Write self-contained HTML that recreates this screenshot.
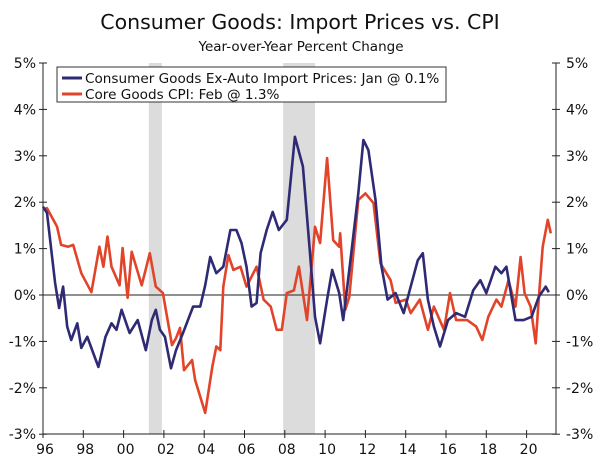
<!DOCTYPE html>
<html><head><meta charset="utf-8"><style>
body{margin:0;background:#fff;}
svg text{font-family:"DejaVu Sans","Liberation Sans",sans-serif;fill:#111;}
</style></head><body>
<svg id="chart" width="600" height="461" viewBox="0 0 600 461">
<text x="300" y="29" text-anchor="middle" font-size="20.5">Consumer Goods: Import Prices vs. CPI</text>
<text x="301" y="51" text-anchor="middle" font-size="13.5">Year-over-Year Percent Change</text>
<g id="shades"></g><g id="axes"></g><g id="series"></g>
<g>
<rect x="57" y="67" width="389" height="35" fill="#fff" stroke="#333" stroke-width="1"/>
<line x1="62" y1="78" x2="82" y2="78" stroke="#2e2a74" stroke-width="3"/>
<text x="85" y="83" font-size="13.6">Consumer Goods Ex-Auto Import Prices: Jan @ 0.1%</text>
<line x1="62" y1="94" x2="82" y2="94" stroke="#e2442a" stroke-width="3"/>
<text x="85" y="99" font-size="13.6">Core Goods CPI: Feb @ 1.3%</text>
</g>
</svg>
<script>
const recessions = [[2001.25, 2001.9], [2007.92, 2009.5]];
const yTicks = [5,4,3,2,1,0,-1,-2,-3];
const xTickYears = [1996,1998,2000,2002,2004,2006,2008,2010,2012,2014,2016,2018,2020];
const xTickLabels = ["96","98","00","02","04","06","08","10","12","14","16","18","20"];
const importDates = [1996.0,1996.2,1996.6,1996.8,1997.0,1997.2,1997.4,1997.7,1997.9,1998.2,1998.5,1998.75,1999.1,1999.4,1999.65,1999.9,2000.3,2000.7,2001.1,2001.4,2001.6,2001.8,2002.05,2002.35,2002.6,2002.95,2003.45,2003.8,2004.05,2004.3,2004.6,2004.95,2005.3,2005.6,2005.85,2006.1,2006.35,2006.6,2006.8,2007.1,2007.4,2007.7,2008.1,2008.5,2008.9,2009.25,2009.5,2009.75,2010.1,2010.35,2010.7,2010.9,2011.2,2011.65,2011.9,2012.15,2012.5,2012.8,2013.1,2013.5,2013.9,2014.25,2014.6,2014.85,2015.1,2015.4,2015.7,2016.1,2016.5,2016.95,2017.35,2017.7,2018.0,2018.45,2018.75,2019.0,2019.45,2019.85,2020.25,2020.6,2020.95,2021.1];
const importValues = [1.9,1.77,0.26,-0.28,0.18,-0.68,-0.97,-0.61,-1.14,-0.9,-1.26,-1.55,-0.9,-0.61,-0.75,-0.32,-0.82,-0.54,-1.19,-0.54,-0.32,-0.75,-0.9,-1.58,-1.19,-0.82,-0.25,-0.25,0.21,0.82,0.47,0.61,1.4,1.4,1.12,0.61,-0.25,-0.17,0.9,1.4,1.79,1.4,1.62,3.41,2.77,0.9,-0.47,-1.04,-0.1,0.54,0.04,-0.54,0.54,2.19,3.34,3.12,2.05,0.61,-0.1,0.04,-0.39,0.18,0.75,0.9,-0.1,-0.68,-1.11,-0.54,-0.39,-0.47,0.1,0.32,0.04,0.61,0.47,0.61,-0.54,-0.54,-0.47,-0.04,0.18,0.06];
const cpiDates = [1996.0,1996.2,1996.7,1996.9,1997.25,1997.5,1997.9,1998.4,1998.8,1999.0,1999.2,1999.4,1999.8,1999.95,2000.2,2000.4,2000.9,2001.3,2001.6,2001.95,2002.4,2002.6,2002.8,2003.0,2003.4,2003.55,2004.05,2004.4,2004.6,2004.8,2004.95,2005.2,2005.45,2005.8,2006.1,2006.6,2006.95,2007.3,2007.6,2007.85,2008.1,2008.45,2008.7,2009.1,2009.5,2009.75,2010.1,2010.4,2010.7,2010.75,2011.0,2011.2,2011.65,2012.0,2012.4,2012.75,2013.25,2013.5,2014.0,2014.25,2014.7,2015.1,2015.4,2015.9,2016.2,2016.5,2017.05,2017.5,2017.8,2018.1,2018.5,2018.75,2019.1,2019.45,2019.7,2019.9,2020.2,2020.45,2020.6,2020.8,2021.05,2021.2];
const cpiValues = [1.85,1.87,1.47,1.08,1.04,1.08,0.47,0.06,1.04,0.61,1.26,0.61,0.21,1.01,-0.06,0.93,0.21,0.9,0.18,0.04,-1.08,-0.93,-0.71,-1.62,-1.4,-1.83,-2.54,-1.55,-1.11,-1.19,0.18,0.86,0.54,0.61,0.18,0.61,-0.1,-0.25,-0.75,-0.75,0.04,0.1,0.61,-0.54,1.47,1.12,2.95,1.18,1.04,1.33,-0.32,-0.04,2.05,2.19,1.98,0.68,0.32,-0.17,-0.1,-0.39,-0.1,-0.75,-0.25,-0.75,0.04,-0.54,-0.54,-0.68,-0.97,-0.47,-0.1,-0.25,0.32,-0.25,0.82,0.04,-0.25,-1.04,-0.1,1.04,1.62,1.33];

const L=43,R=556,T=63,B=434;
const xs = y => L + (y-1996)*20.15;
const ys = v => 295 - v*46.4;
const NS="http://www.w3.org/2000/svg";
function mk(tag, attrs, parent){const e=document.createElementNS(NS,tag);for(const k in attrs)e.setAttribute(k,attrs[k]);parent.appendChild(e);return e;}
const shades=document.getElementById('shades'), axes=document.getElementById('axes'), series=document.getElementById('series');
recessions.forEach(r=>{
  const e=mk('rect',{x:xs(r[0]),y:T,width:xs(r[1])-xs(r[0]),height:B-T,fill:'#dcdcdc'},shades);
  
  
});
const z=mk('line',{x1:L,x2:R,y1:ys(0),y2:ys(0),stroke:'#222','stroke-width':1},axes);


[[L,'left'],[R,'right']].forEach(([x,side])=>{
  const a=mk('line',{x1:x,x2:x,y1:T,y2:B,stroke:'#222','stroke-width':1},axes);
  
  
});
const xa=mk('line',{x1:L,x2:R,y1:B,y2:B,stroke:'#222','stroke-width':1},axes);


yTicks.forEach(v=>{
  const y=ys(v);
  mk('line',{x1:L-4,x2:L+4,y1:y,y2:y,stroke:'#222'},axes);
  mk('line',{x1:R-4,x2:R+4,y1:y,y2:y,stroke:'#222'},axes);
  const t1=mk('text',{x:L-7,y:y+5,'text-anchor':'end','font-size':14},axes);
  t1.textContent=v+'%';
  
  
  const t2=mk('text',{x:R+10,y:y+5,'text-anchor':'start','font-size':14},axes);
  t2.textContent=v+'%';
  
  
});
xTickYears.forEach((yr,i)=>{
  const x=xs(yr);
  mk('line',{x1:x,x2:x,y1:B-4,y2:B+4,stroke:'#222'},axes);
  const t=mk('text',{x:x+2,y:454,'text-anchor':'middle','font-size':14},axes);
  t.textContent=xTickLabels[i];
  
  
});
function line(d,v,color,name){
  const p=d.map((yr,i)=>(i?'L':'M')+xs(yr).toFixed(1)+' '+ys(v[i]).toFixed(1)).join(' ');
  const e=mk('path',{d:p,fill:'none',stroke:color,'stroke-width':2.6,'stroke-linejoin':'round'},series);
  
  
}
line(cpiDates,cpiValues,'#e2442a','core-goods-cpi-line');
line(importDates,importValues,'#2e2a74','import-prices-line');
</script>
</body></html>
